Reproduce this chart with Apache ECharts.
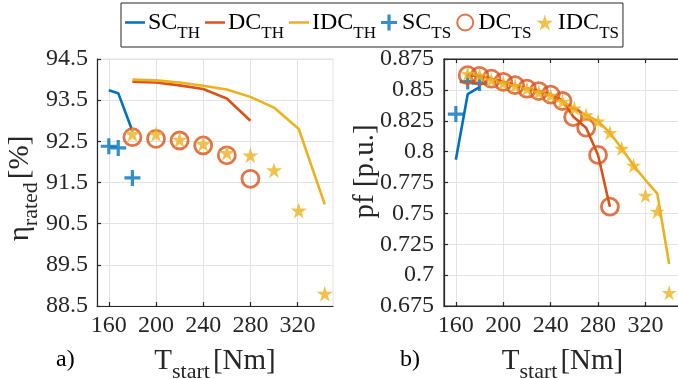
<!DOCTYPE html>
<html>
<head>
<meta charset="utf-8">
<script src="https://cdn.jsdelivr.net/npm/echarts@6/dist/echarts.min.js"></script>
<style>
html,body{margin:0;padding:0;background:#fff;}
#c{width:678px;height:379px;}
</style>
</head>
<body>
<div id="c"></div>
<script>
// ---------- data ----------
// a) efficiency
const tLeftSC = [160, 168, 180];
const etaSC_TH = [93.74, 93.67, 92.75];
const etaSC_TS = [92.38, 92.34, 91.61];
const tLeftDC = [180, 200, 220, 240, 260, 280];
const etaDC_TH = [93.95, 93.93, 93.86, 93.77, 93.54, 93.0];
const etaDC_TS = [92.6, 92.56, 92.52, 92.4, 92.16, 91.59];
const tLeftIDC = [180, 200, 220, 240, 260, 280, 300, 321, 343];
const etaIDC_TH = [94.0, 93.98, 93.93, 93.85, 93.76, 93.58, 93.32, 92.8, 90.97];
const etaIDC_TS = [92.68, 92.68, 92.54, 92.44, 92.22, 92.16, 91.8, 90.82, 88.8];
// b) power factor
const tRightSC = [160, 170, 180];
const pfSC_TH = [0.7935, 0.8465, 0.8522];
const pfSC_TS = [0.8304, 0.8567, 0.8555];
const tRightDC = [170, 180, 190, 200, 210, 220, 230, 240, 250, 259, 270, 280, 290];
const pfDC_TH = [0.8619, 0.8613, 0.8591, 0.8565, 0.8538, 0.851, 0.849, 0.8462, 0.8414, 0.8285, 0.8191, 0.7973, 0.7554];
const pfDC_TS = [0.8619, 0.8613, 0.8591, 0.8565, 0.8538, 0.851, 0.849, 0.8462, 0.8410, 0.8280, 0.8194, 0.7973, 0.7554];
const tRightIDC = [170, 180, 190, 200, 210, 220, 230, 240, 250, 260, 270, 280, 290, 300, 310, 320, 330, 340];
const pfIDC_TH = [0.863, 0.862, 0.858, 0.8556, 0.8534, 0.851, 0.848, 0.8457, 0.8405, 0.8352, 0.8296, 0.8246, 0.8153, 0.8025, 0.7887, 0.777, 0.766, 0.709];
const pfIDC_TS = [0.8631, 0.8618, 0.858, 0.8556, 0.8534, 0.851, 0.848, 0.8457, 0.8405, 0.8352, 0.8296, 0.8246, 0.8153, 0.8025, 0.7887, 0.7645, 0.7516, 0.6857];
// tick labels
const xTicks = [160, 200, 240, 280, 320];
const etaTicks = [88.5, 89.5, 90.5, 91.5, 92.5, 93.5, 94.5];
const pfTicks = [0.675, 0.7, 0.725, 0.75, 0.775, 0.8, 0.825, 0.85, 0.875];

// ---------- styles ----------
const FONT = 'Liberation Serif';
const BLUE = '#0072BD', RED = '#D95319', YEL = '#EDB120';
const AX = '#262626', GRIDC = '#e3e3e3';
const PLUS = 'path://M4,0H6V4H10V6H6V10H4V6H0V4H4Z';
const STAR = 'path://M50,0L61.17,34.63L97.55,34.55L68.07,55.87L79.39,90.45L50,69L20.61,90.45L31.93,55.87L2.45,34.55L38.83,34.63Z';
const LINEICON = 'path://M0,0L0.01,0L0.01,0.01ZM0,6.7H20V9.3H0ZM19.99,16L20,16L20,15.99Z';

const zip = (xs, ys) => xs.map((x, i) => [x, ys[i]]);

const tickRich = {t: {fontFamily: FONT, fontSize: 24, color: AX}};
const titleRich = {
  m: {fontFamily: FONT, fontSize: 29, color: AX, lineHeight: 30},
  s: {fontFamily: FONT, fontSize: 22, color: AX, lineHeight: 22, padding: [22, 0, 0, 0]}
};

function xAxisFor(gi) {
  return {
    type: 'value', gridIndex: gi, min: 150, max: 350,
    axisLine: {show: true, lineStyle: {color: AX, width: 1.2}},
    axisTick: {show: true, inside: true, length: 4, customValues: xTicks, lineStyle: {color: AX, width: 1.2}},
    axisLabel: {customValues: xTicks, margin: 8, fontFamily: FONT, fontSize: 24, color: AX,
                formatter: v => '{t|' + v + '}', rich: tickRich},
    splitLine: {show: true, lineStyle: {color: GRIDC, width: 1}},
    name: '{m|T}{s|start} {m|[Nm]}',
    nameLocation: 'middle', nameGap: 40, nameMoveOverlap: false,
    nameTextStyle: {fontFamily: FONT, rich: titleRich}
  };
}

const option = {
  animation: false,
  backgroundColor: '#fff',
  textStyle: {fontFamily: FONT},
  grid: [
    {left: 97, right: 345, top: 59, bottom: 73, outerBoundsMode: 'none', containLabel: false,
     show: true, borderColor: GRIDC, borderWidth: 1, backgroundColor: 'transparent'},
    {left: 444, right: -3, top: 59, bottom: 73, outerBoundsMode: 'none', containLabel: false,
     show: true, borderColor: AX, borderWidth: 1.2, backgroundColor: 'transparent'}
  ],
  legend: {
    data: [
      {name: 'SC_TH', icon: LINEICON},
      {name: 'DC_TH', icon: LINEICON},
      {name: 'IDC_TH', icon: LINEICON},
      {name: 'SC_TS'},
      {name: 'DC_TS'},
      {name: 'IDC_TS'}
    ],
    left: 121, top: 3,
    orient: 'horizontal',
    itemGap: 5, itemWidth: 20, itemHeight: 16,
    padding: [0, 4, 5, 4],
    borderColor: AX, borderWidth: 1, backgroundColor: '#fff',
    formatter: n => { const p = n.split('_'); return '{m|' + p[0] + '}{s|' + p[1] + '}'; },
    textStyle: {
      fontFamily: FONT,
      padding: [0, 0, 0, -2],
      rich: {
        m: {fontFamily: FONT, fontSize: 24, color: '#000', lineHeight: 26},
        s: {fontFamily: FONT, fontSize: 17, color: '#000', lineHeight: 17, padding: [22, 0, 0, 0]}
      }
    }
  },
  xAxis: [
    xAxisFor(0),
    xAxisFor(1),
    {type: 'value', gridIndex: 1, position: 'top', min: 150, max: 350,
     axisLine: {show: true, lineStyle: {color: AX, width: 1.2}},
     axisTick: {show: true, inside: true, length: 4, customValues: xTicks, lineStyle: {color: AX, width: 1.2}},
     axisLabel: {show: false}, splitLine: {show: false}}
  ],
  yAxis: [
    {type: 'value', gridIndex: 0, min: 88.5, max: 94.5,
     axisLine: {show: true, lineStyle: {color: AX, width: 1.2}},
     axisTick: {show: true, inside: true, length: 4, customValues: etaTicks, lineStyle: {color: AX, width: 1.2}},
     axisLabel: {customValues: etaTicks, margin: 9, fontFamily: FONT, fontSize: 24, color: AX,
                 formatter: v => '{t|' + Number(v).toFixed(1) + '}', rich: tickRich},
     splitLine: {show: true, lineStyle: {color: GRIDC, width: 1}},
     name: '{m|η}{s|rated} {m|[%]}', nameLocation: 'middle', nameRotate: 90, nameGap: 62, nameMoveOverlap: false,
     nameTextStyle: {fontFamily: FONT, rich: titleRich, padding: [0, 12, 0, 0]}
    },
    {type: 'value', gridIndex: 1, min: 0.675, max: 0.875,
     axisLine: {show: true, lineStyle: {color: AX, width: 1.2}},
     axisTick: {show: true, inside: true, length: 4, customValues: pfTicks, lineStyle: {color: AX, width: 1.2}},
     axisLabel: {customValues: pfTicks, margin: 10, fontFamily: FONT, fontSize: 24, color: AX,
                 formatter: v => '{t|' + String(+Number(v).toFixed(3)) + '}', rich: tickRich},
     splitLine: {show: true, lineStyle: {color: GRIDC, width: 1}},
     name: 'pf [p.u.]', nameLocation: 'middle', nameRotate: 90, nameGap: 64, nameMoveOverlap: false,
     nameTextStyle: {fontFamily: FONT, fontSize: 29, color: AX, padding: [0, 0, 0, 22]}
    }
  ],
  graphic: [
    {type: 'text', left: 56, top: 348, style: {text: 'a)', font: '24px "Liberation Serif"', fill: '#000'}},
    {type: 'text', left: 400, top: 348, style: {text: 'b)', font: '24px "Liberation Serif"', fill: '#000'}}
  ],
  series: [
    // left
    {name: 'SC_TH', type: 'line', xAxisIndex: 0, yAxisIndex: 0, data: zip(tLeftSC, etaSC_TH), symbol: 'none', lineStyle: {color: BLUE, width: 2.6}, itemStyle: {color: BLUE}, z: 2},
    {name: 'DC_TH', type: 'line', xAxisIndex: 0, yAxisIndex: 0, data: zip(tLeftDC, etaDC_TH), symbol: 'none', lineStyle: {color: RED, width: 2.6}, itemStyle: {color: RED}, z: 2},
    {name: 'IDC_TH', type: 'line', xAxisIndex: 0, yAxisIndex: 0, data: zip(tLeftIDC, etaIDC_TH), symbol: 'none', lineStyle: {color: YEL, width: 2.6}, itemStyle: {color: YEL}, z: 2},
    {name: 'SC_TS', type: 'scatter', xAxisIndex: 0, yAxisIndex: 0, data: zip(tLeftSC, etaSC_TS), symbol: PLUS, symbolSize: 16, itemStyle: {color: BLUE}, z: 3},
    {name: 'DC_TS', type: 'scatter', xAxisIndex: 0, yAxisIndex: 0, data: zip(tLeftDC, etaDC_TS), symbol: 'circle', symbolSize: 17, itemStyle: {color: 'rgba(0,0,0,0)', borderColor: RED, borderWidth: 2.8}, z: 4},
    {name: 'IDC_TS', type: 'scatter', xAxisIndex: 0, yAxisIndex: 0, data: zip(tLeftIDC, etaIDC_TS), symbol: STAR, symbolSize: 16, itemStyle: {color: YEL}, z: 5},
    // right
    {name: 'SC_TH', type: 'line', xAxisIndex: 1, yAxisIndex: 1, data: zip(tRightSC, pfSC_TH), symbol: 'none', lineStyle: {color: BLUE, width: 2.6}, itemStyle: {color: BLUE}, z: 6},
    {name: 'DC_TH', type: 'line', xAxisIndex: 1, yAxisIndex: 1, data: zip(tRightDC, pfDC_TH), symbol: 'none', lineStyle: {color: RED, width: 2.6}, itemStyle: {color: RED}, z: 2},
    {name: 'IDC_TH', type: 'line', xAxisIndex: 1, yAxisIndex: 1, data: zip(tRightIDC, pfIDC_TH), symbol: 'none', lineStyle: {color: YEL, width: 2.6}, itemStyle: {color: YEL}, z: 2},
    {name: 'SC_TS', type: 'scatter', xAxisIndex: 1, yAxisIndex: 1, data: zip(tRightSC, pfSC_TS), symbol: PLUS, symbolSize: 16, itemStyle: {color: BLUE}, z: 3},
    {name: 'DC_TS', type: 'scatter', xAxisIndex: 1, yAxisIndex: 1, data: zip(tRightDC, pfDC_TS), symbol: 'circle', symbolSize: 17, itemStyle: {color: 'rgba(0,0,0,0)', borderColor: RED, borderWidth: 2.8}, z: 4},
    {name: 'IDC_TS', type: 'scatter', xAxisIndex: 1, yAxisIndex: 1, data: zip(tRightIDC, pfIDC_TS), symbol: STAR, symbolSize: 15, itemStyle: {color: YEL}, z: 5}
  ]
};

const chart = echarts.init(document.getElementById('c'), null, {renderer: 'canvas'});
chart.setOption(option);
</script>
</body>
</html>
